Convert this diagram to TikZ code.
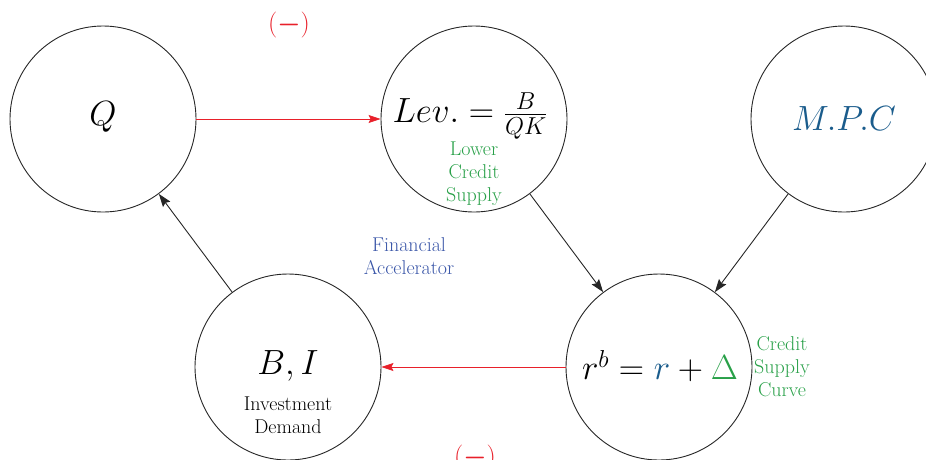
\RequirePackage{fix-cm}
\documentclass[tikz,border=0pt]{standalone}
\usepackage{amsmath}
\usetikzlibrary{arrows.meta}
\definecolor{myred}{RGB}{232,32,42}
\definecolor{mygreen}{RGB}{40,160,72}
\definecolor{mpcblue}{RGB}{26,92,140}
\definecolor{accblue}{RGB}{58,86,168}
\tikzset{
  bubble/.style={circle, draw=black!85, line width=0.9pt, minimum size=186pt, inner sep=0pt},
  bigmath/.style={font=\fontsize{35}{42}\selectfont},
  smalltext/.style={font=\fontsize{20}{23}\selectfont, align=center},
  redarrow/.style={draw=myred, line width=0.8pt, -{Stealth[length=12pt,width=8pt,inset=2pt]}, fill=myred},
  blackarrow/.style={draw=black!85, line width=0.9pt, -{Stealth[length=13pt,width=9pt,inset=2pt]}},
  signlabel/.style={text=myred, font=\fontsize{26}{30}\selectfont}
}
\begin{document}
\begin{tikzpicture}[x=1pt,y=-1pt]
\useasboundingbox (0,0) rectangle (926,459);
% circles
\node[bubble] (q) at (103,119) {};
\node[bubble] (lev) at (474,119) {};
\node[bubble] (mpc) at (844,119) {};
\node[bubble] (bi) at (288,367) {};
\node[bubble] (rb) at (659,367) {};
% main labels
\node[bigmath] (qt) at (103,117) {$Q$};
\node[bigmath] (levt) at (470,116) {$Lev. = \frac{B}{QK}$};
\node[bigmath, text=mpcblue] (mpct) at (844,119) {$M.P.C$};
\node[bigmath] (bit) at (288,366) {$B, I$};
\node[bigmath] (rbt) at (660,366) {$r^{b} = {\color{mpcblue}r} + {\color{mygreen}\Delta}$};
% small labels
\node[smalltext, text=mygreen] (lcs) at (474,174) {Lower\\Credit\\Supply};
\node[smalltext, text=black] (invd) at (288,415) {Investment\\Demand};
\node[smalltext, text=accblue] (facc) at (409,256) {Financial\\Accelerator};
\node[smalltext, text=mygreen] (csc) at (782,367) {Credit\\Supply\\Curve};
% signs
\node[signlabel] (s1) at (289,25) {$(\boldsymbol{-})$};
\node[signlabel] (s2) at (475,458) {$(\boldsymbol{-})$};
% connectors
\draw[redarrow] (q) -- (lev);
\draw[redarrow] (rb) -- (bi);
\draw[blackarrow] (lev) -- (rb);
\draw[blackarrow] (mpc) -- (rb);
\draw[blackarrow] (bi) -- (q);
\end{tikzpicture}
\end{document}
